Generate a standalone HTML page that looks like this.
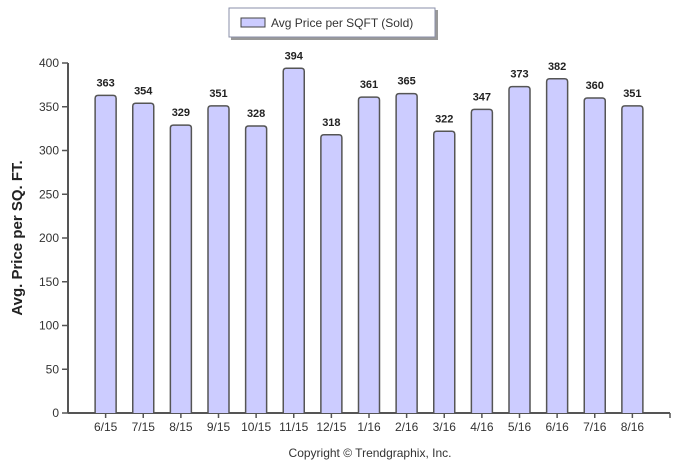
<!DOCTYPE html>
<html><head><meta charset="utf-8"><style>
body{margin:0;background:#fff;}
svg text{font-family:"Liberation Sans",Arial,sans-serif;}
</style></head><body>
<svg width="690" height="465" xmlns="http://www.w3.org/2000/svg">
<g>
<rect x="231" y="10" width="207" height="30" fill="#999"/>
<rect x="229" y="8" width="206" height="29" fill="#fff" stroke="#8a8fa8" stroke-width="1"/>
<rect x="241" y="18" width="24" height="9" fill="#ccccff" stroke="#444"/>
<text x="271" y="27" font-size="12" fill="#333">Avg Price per SQFT (Sold)</text>
</g>
<text transform="translate(22,238) rotate(-90)" text-anchor="middle" font-size="15" font-weight="bold" fill="#222">Avg. Price per SQ. FT.</text>
<g id="yaxis"></g>
<g id="xaxis"></g>
<g id="bars"></g>
<text x="370" y="457" text-anchor="middle" font-size="12" fill="#333">Copyright © Trendgraphix, Inc.</text>
</svg>
<script>
const categories=["6/15","7/15","8/15","9/15","10/15","11/15","12/15","1/16","2/16","3/16","4/16","5/16","6/16","7/16","8/16"];
const values=[363,354,329,351,328,394,318,361,365,322,347,373,382,360,351];
const yTicks=[0,50,100,150,200,250,300,350,400];
const NS="http://www.w3.org/2000/svg";
const X0=68,X1=670,Y0=413,Y1=63,YMAX=400;
const band=(X1-X0)/(categories.length+1);
const yS=v=>Y0-(v/YMAX)*(Y0-Y1);
const xS=i=>X0+band*(i+1);
function mk(t,a,p){const e=document.createElementNS(NS,t);for(const k in a)e.setAttribute(k,a[k]);p.appendChild(e);return e;}
const ya=document.getElementById('yaxis'),xa=document.getElementById('xaxis'),bg=document.getElementById('bars');
mk('line',{x1:X0,y1:Y1,x2:X0,y2:Y0,stroke:'#555','stroke-width':2},ya);
yTicks.forEach(v=>{
 mk('line',{x1:X0-6,y1:yS(v),x2:X0,y2:yS(v),stroke:'#555','stroke-width':1.5},ya);
 const t=mk('text',{x:X0-9,y:yS(v)+4,'text-anchor':'end','font-size':12,fill:'#333'},ya);
 
 
 t.textContent=v;
});
mk('line',{x1:X0,y1:Y0,x2:X1,y2:Y0,stroke:'#555','stroke-width':2},xa);
mk('line',{x1:X1,y1:Y0,x2:X1,y2:Y0+5,stroke:'#555','stroke-width':1.5},xa);
const bw=21;
categories.forEach((c,i)=>{
 const cx=xS(i);
 mk('line',{x1:cx,y1:Y0,x2:cx,y2:Y0+5,stroke:'#555','stroke-width':1.5},xa);
 const t=mk('text',{x:cx,y:Y0+18,'text-anchor':'middle','font-size':12,fill:'#333'},xa);
 
 
 t.textContent=c;
 const top=yS(values[i]);
 const p=mk('path',{d:`M${cx-bw/2},${Y0} L${cx-bw/2},${top+3} Q${cx-bw/2},${top} ${cx-bw/2+3},${top} L${cx+bw/2-3},${top} Q${cx+bw/2},${top} ${cx+bw/2},${top+3} L${cx+bw/2},${Y0}`,fill:'#ccccff',stroke:'#555','stroke-width':1.5},bg);
 
 
 const l=mk('text',{x:cx,y:top-9,'text-anchor':'middle','font-size':11,'font-weight':'bold',fill:'#222'},bg);
 
 
 l.textContent=values[i];
});
</script>
</body></html>
